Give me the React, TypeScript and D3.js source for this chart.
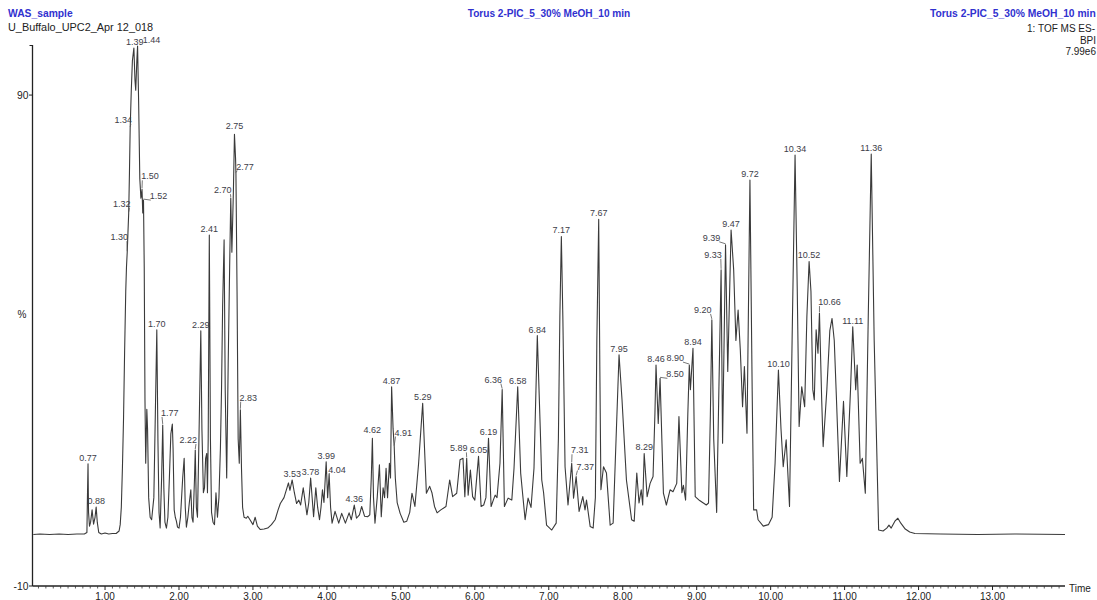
import React from "react";
import * as d3 from "d3";

type Pt = [number, number];

// Chromatogram trace, time (min) vs relative intensity (%)
const traceLeadIn: Pt[] = [
  [0.03, 0.5], [0.12, 0.6], [0.25, 0.5], [0.38, 0.6], [0.5, 0.5], [0.62, 0.6], [0.72, 0.6],
  [0.755, 0.9], [0.762, 8], [0.77, 14.9], [0.777, 5], [0.79, 2.2], [0.805, 3], [0.825, 5.5],
  [0.845, 2.6], [0.865, 4], [0.88, 6.1], [0.895, 3], [0.915, 0.9], [0.95, 0.6], [1.0, 0.8],
  [1.05, 0.6], [1.1, 0.7], [1.15, 0.7], [1.19, 1.2],
];

const traceMain: Pt[] = [
  [1.205, 2.5], [1.22, 6], [1.235, 14], [1.25, 24], [1.265, 38], [1.28, 50], [1.29, 55],
  [1.3, 58], [1.31, 62], [1.32, 66], [1.33, 74], [1.34, 83.3], [1.355, 91], [1.37, 97],
  [1.39, 99.6], [1.405, 93], [1.415, 91], [1.43, 97], [1.44, 100], [1.455, 88], [1.47, 73],
  [1.485, 69], [1.5, 70.8], [1.51, 66], [1.52, 68.6], [1.53, 55], [1.54, 28], [1.55, 15],
  [1.565, 26], [1.575, 22], [1.59, 8], [1.61, 4], [1.63, 3.5],
];

const traceEarly: Pt[] = [
  [1.66, 8], [1.68, 25], [1.7, 42.2], [1.715, 20], [1.73, 5], [1.745, 1.8], [1.765, 12],
  [1.78, 22.8], [1.795, 10], [1.81, 3], [1.83, 1.8], [1.85, 4], [1.87, 12], [1.89, 21],
  [1.91, 23], [1.92, 18], [1.935, 5.5], [1.95, 4], [1.965, 3.2], [1.98, 2], [2.0, 1.8],
  [2.02, 4], [2.05, 12], [2.07, 16], [2.085, 6], [2.1, 2], [2.12, 4], [2.14, 7], [2.16, 9.6],
  [2.175, 4], [2.19, 3], [2.21, 12], [2.22, 17.7], [2.235, 6], [2.25, 4], [2.27, 20],
  [2.295, 42], [2.31, 22], [2.33, 9], [2.345, 10], [2.36, 16], [2.375, 17], [2.385, 9],
  [2.395, 20], [2.41, 61.5], [2.425, 20], [2.44, 5], [2.46, 3], [2.48, 2.5], [2.5, 9],
  [2.52, 4], [2.54, 8], [2.56, 18], [2.575, 30], [2.59, 47], [2.61, 60.5], [2.625, 30],
  [2.645, 12], [2.665, 35], [2.685, 55], [2.7, 69], [2.715, 58], [2.735, 70], [2.75, 82],
  [2.765, 77], [2.77, 74], [2.785, 50], [2.8, 20], [2.815, 15], [2.83, 25.9], [2.845, 14],
  [2.86, 6], [2.88, 4], [2.91, 3.8], [2.93, 4.2], [2.96, 3.5], [3.0, 2.5], [3.03, 4],
  [3.06, 2.2], [3.1, 1.5], [3.15, 1.6], [3.2, 1.8],
];

const traceMid: Pt[] = [
  [3.25, 2.5], [3.3, 3.5], [3.34, 5.5], [3.37, 6.8], [3.42, 8], [3.46, 10], [3.48, 11],
  [3.5, 9.5], [3.53, 11.6], [3.56, 9], [3.59, 6.8], [3.62, 7.5], [3.645, 6.5], [3.68, 10],
  [3.73, 4.5], [3.755, 7], [3.78, 12], [3.82, 4.1], [3.85, 10], [3.875, 6], [3.9, 3.5],
  [3.92, 6], [3.94, 9.6], [3.96, 7], [3.99, 15.3], [4.01, 8], [4.03, 12.8], [4.05, 6],
  [4.07, 2.8], [4.11, 5.2], [4.16, 2.8], [4.2, 4.8], [4.25, 2.8], [4.3, 4.9], [4.33, 3.5],
  [4.37, 6.5], [4.4, 3.8], [4.44, 4.5], [4.47, 6.2], [4.51, 4.2], [4.55, 4.1], [4.58, 4.5],
  [4.6, 12], [4.615, 20.1], [4.63, 8], [4.65, 2.8],
];

const traceMid2: Pt[] = [
  [4.68, 8], [4.71, 14.7], [4.735, 4.1], [4.76, 10], [4.78, 8], [4.8, 14], [4.82, 8],
  [4.845, 15], [4.86, 12], [4.875, 30.6], [4.895, 22], [4.91, 18.4], [4.925, 12], [4.95, 7],
  [4.99, 4.8], [5.04, 3], [5.08, 3.2], [5.12, 5], [5.15, 8.9], [5.19, 6.2], [5.24, 15],
  [5.295, 27.2], [5.32, 18], [5.345, 8.9], [5.39, 10.3], [5.42, 9], [5.455, 6.2], [5.49, 4.9],
  [5.54, 5.5], [5.61, 6.2], [5.66, 11.6], [5.7, 8.2], [5.755, 8.9], [5.8, 15.7], [5.84, 16],
  [5.865, 8.2], [5.89, 16], [5.91, 8.5], [5.94, 13.6], [5.97, 8.2], [6.0, 7.5], [6.05, 16.4],
  [6.085, 6.2], [6.12, 6.5], [6.15, 8], [6.185, 20.1], [6.22, 6.2], [6.25, 7.5], [6.275, 8.5],
  [6.3, 8], [6.34, 15], [6.37, 30], [6.4, 6.2], [6.45, 7.9], [6.5, 7.5], [6.53, 14],
  [6.58, 30.6], [6.62, 13], [6.645, 9], [6.68, 3.5], [6.72, 7.9], [6.76, 6], [6.8, 14],
  [6.845, 41], [6.885, 22], [6.905, 11.6], [6.93, 9], [6.97, 2.4], [7.04, 1.4], [7.1, 2.8],
];

const traceLate: Pt[] = [
  [7.13, 20], [7.15, 45], [7.17, 61.2], [7.19, 45], [7.22, 14.3], [7.26, 6.5], [7.31, 15],
  [7.335, 7.9], [7.37, 12.3], [7.41, 5.2], [7.46, 8.2], [7.49, 5.5], [7.51, 7.5], [7.56, 2.1],
  [7.6, 1.8], [7.63, 8], [7.65, 40], [7.675, 64.7], [7.69, 35], [7.705, 9.6], [7.74, 14.3],
  [7.78, 13], [7.83, 2.4], [7.87, 2.8], [7.91, 20], [7.95, 37.1], [7.99, 28], [8.05, 11.6],
  [8.12, 3.5], [8.155, 3.2], [8.19, 13], [8.22, 6.9], [8.25, 9.6], [8.27, 6.5], [8.29, 17],
  [8.33, 8.2], [8.37, 10.9], [8.41, 12.3], [8.435, 25], [8.45, 35], [8.48, 23.1],
  [8.505, 32.3], [8.55, 8.9], [8.59, 6.5], [8.64, 9.6], [8.68, 9.2], [8.73, 10.9],
  [8.76, 24.5], [8.8, 9], [8.82, 10.5], [8.85, 7.5], [8.88, 25], [8.9, 35], [8.915, 30],
  [8.95, 38.4], [8.98, 8.2],
];

const traceEnd: Pt[] = [
  [9.04, 7.4], [9.09, 6.9], [9.13, 6.5], [9.16, 6.9], [9.185, 25], [9.205, 44.2], [9.23, 20],
  [9.27, 5], [9.3, 30], [9.33, 54.4], [9.35, 19.1], [9.39, 59.5], [9.42, 33.7], [9.465, 62.5],
  [9.5, 54.4], [9.53, 40], [9.56, 46.2], [9.59, 38], [9.62, 26.5], [9.645, 34.7], [9.68, 21.1],
  [9.72, 72.7], [9.75, 30], [9.77, 5.5], [9.81, 5.5], [9.83, 3.5], [9.9, 2.2], [9.97, 2.5],
  [10.02, 4], [10.06, 15], [10.105, 34], [10.14, 22], [10.17, 14.3], [10.21, 19.8],
  [10.255, 6.2], [10.29, 40], [10.33, 77.8], [10.36, 50], [10.385, 22.5], [10.42, 30.6],
  [10.46, 26.5], [10.49, 45], [10.52, 56.1], [10.545, 50], [10.57, 30], [10.59, 27.9],
  [10.615, 42.2], [10.64, 37.4], [10.66, 45.6], [10.69, 28], [10.71, 18.4], [10.76, 30],
  [10.8, 42], [10.83, 44.5], [10.86, 40], [10.89, 28], [10.93, 11.3], [10.985, 27.6],
  [11.03, 12.3], [11.08, 30], [11.11, 42.8], [11.15, 30], [11.17, 35], [11.21, 15],
  [11.24, 16], [11.28, 8.9], [11.32, 45], [11.36, 78], [11.4, 40], [11.46, 1.4], [11.52, 1.2],
  [11.57, 1.8], [11.6, 2.4], [11.63, 1.8], [11.68, 3.2], [11.72, 3.8], [11.76, 2.8],
  [11.82, 1.6], [11.88, 1.0], [11.95, 0.7], [12.3, 0.6], [12.8, 0.5], [13.3, 0.6], [13.98, 0.5],
];

// Labelled peaks: text, apex time, apex intensity
const peakLabels: string[] = [
  "0.77", "0.88", "1.30", "1.32", "1.34", "1.39", "1.44", "1.50", "1.52", "1.70", "1.77",
  "2.22", "2.29", "2.41", "2.70", "2.75", "2.77", "2.83", "3.53", "3.78", "3.99", "4.04",
  "4.36", "4.62", "4.87", "4.91", "5.29", "5.89", "6.05", "6.19", "6.36", "6.58", "6.84",
  "7.17", "7.31", "7.37", "7.67", "7.95", "8.29", "8.46", "8.50", "8.90", "8.94", "9.20",
  "9.33", "9.39", "9.47", "9.72", "10.10", "10.34", "10.52", "10.66", "11.11", "11.36",
];
const peakTimes: number[] = [
  0.77, 0.88, 1.3, 1.32, 1.34, 1.39, 1.44, 1.5, 1.52, 1.7, 1.78,
  2.22, 2.295, 2.41, 2.7, 2.75, 2.77, 2.83, 3.53, 3.78, 3.99, 4.03,
  4.37, 4.615, 4.875, 4.91, 5.295, 5.89, 6.05, 6.185, 6.37, 6.58, 6.845,
  7.17, 7.31, 7.37, 7.675, 7.95, 8.29, 8.45, 8.505, 8.9, 8.95, 9.205,
  9.33, 9.39, 9.465, 9.72, 10.105, 10.33, 10.52, 10.66, 11.11, 11.36,
];
const peakValues: number[] = [
  14.9, 6.1, 58, 66, 83.3, 99.6, 100, 70.8, 68.6, 42.2, 22.8,
  17.7, 42, 61.5, 69, 82, 74, 25.9, 11.6, 12, 15.3, 12.8,
  6.5, 20.1, 30.6, 18.4, 27.2, 16, 16.4, 20.1, 30, 30.6, 41,
  61.2, 15, 12.3, 64.7, 37.1, 17, 35, 32.3, 35, 38.4, 44.2,
  54.4, 59.5, 62.5, 72.7, 34, 77.8, 56.1, 45.6, 42.8, 78,
];

const xTickValues: number[] = [1, 2, 3, 4, 5, 6, 7, 8, 9, 10, 11, 12, 13];
const yTickValues: number[] = [-10, 90];

const FONT = "'Liberation Sans', Arial, Helvetica, sans-serif";
const BLUE = "#3131cf";

export default function App() {
  const W = 1097;
  const H = 600;
  const x = d3.scaleLinear().domain([0.026, 13.98]).range([33, 1065]);
  const y = d3.scaleLinear().domain([-10, 100.2]).range([586, 45]);

  const trace: Pt[] = [
    ...traceLeadIn, ...traceMain, ...traceEarly, ...traceMid,
    ...traceMid2, ...traceLate, ...traceEnd,
  ];
  const line = d3.line<Pt>().x((d) => x(d[0])).y((d) => y(d[1]));

  const minorTicks = d3
    .range(1, 140)
    .map((i) => i / 10)
    .filter((t) => Math.abs(t - Math.round(t)) > 0.01 && x(t) < 1065);

  // label placement: offset of label centre / baseline from the apex, and leader flag
  const layout: Record<string, { dx: number; dy: number; leader?: boolean }> = {
    "1.30": { dx: -8, dy: -12, leader: true },
    "1.32": { dx: -7, dy: -6, leader: true },
    "1.34": { dx: -7, dy: -5, leader: true },
    "1.39": { dx: 1, dy: -3 },
    "1.44": { dx: 14, dy: -3 },
    "1.50": { dx: 8, dy: -10, leader: true },
    "1.52": { dx: 15, dy: -1, leader: true },
    "1.77": { dx: 7, dy: -9, leader: true },
    "2.22": { dx: -7, dy: -7, leader: true },
    "2.70": { dx: -8, dy: -5, leader: true },
    "2.75": { dx: 0, dy: -5 },
    "2.77": { dx: 9, dy: -4, leader: true },
    "2.83": { dx: 8, dy: -9, leader: true },
    "4.04": { dx: 8, dy: -1, leader: true },
    "4.62": { dx: 0, dy: -5 },
    "4.91": { dx: 9, dy: -11, leader: true },
    "5.89": { dx: -8, dy: -7, leader: true },
    "6.36": { dx: -9, dy: -7, leader: true },
    "7.31": { dx: 8, dy: -10, leader: true },
    "7.37": { dx: 9, dy: -7, leader: true },
    "8.50": { dx: 15, dy: -1, leader: true },
    "8.90": { dx: -14, dy: -4, leader: true },
    "9.20": { dx: -9, dy: -7, leader: true },
    "9.33": { dx: -8, dy: -12, leader: true },
    "9.39": { dx: -14, dy: -4, leader: true },
    "10.66": { dx: 10, dy: -8, leader: true },
  };

  const labels = peakLabels.map((text, i) => {
    const ax = x(peakTimes[i]);
    const ay = y(peakValues[i]);
    const l = layout[text] || { dx: 0, dy: -3 };
    const lx = ax + l.dx;
    const by = ay + l.dy;
    const hw = text.length * 2.3;
    let leader: null | [number, number, number, number] = null;
    if (l.leader) {
      const sx = l.dx < 0 ? lx + hw - 1.5 : lx - hw + 1.5;
      leader = [sx, by + 1, ax, ay - 1];
    }
    return { text, lx, by, leader };
  });

  return (
    <div style={{ position: "absolute", left: 0, top: 0, background: "#fff" }}>
      <svg width={W} height={H} style={{ display: "block", fontFamily: FONT }}>
        <rect x={0} y={0} width={W} height={H} fill="#fff" />
        {/* header */}
        <text x={8} y={17.3} fontSize={10.3} fontWeight="bold" fill={BLUE}>WAS_sample</text>
        <text x={8} y={31} fontSize={10.9} fill="#222">U_Buffalo_UPC2_Apr 12_018</text>
        <text x={549} y={17.3} fontSize={10.1} fontWeight="bold" fill={BLUE} textAnchor="middle">
          Torus 2-PIC_5_30% MeOH_10 min
        </text>
        <text x={930} y={17.3} fontSize={10.3} fontWeight="bold" fill={BLUE}>
          Torus 2-PIC_5_30% MeOH_10 min
        </text>
        <text x={1095} y={32} fontSize={10} fill="#222" textAnchor="end">1: TOF MS ES-</text>
        <text x={1096} y={43.6} fontSize={10} fill="#222" textAnchor="end">BPI</text>
        <text x={1096} y={55.3} fontSize={10} fill="#222" textAnchor="end">7.99e6</text>

        {/* y axis */}
        <line x1={32.5} y1={y(100.2)} x2={32.5} y2={586} stroke="#222" strokeWidth={1.3} />
        <line x1={29.5} y1={y(100.2) + 0.5} x2={32.5} y2={y(100.2) + 0.5} stroke="#222" strokeWidth={1} />
        {yTickValues.map((v) => (
          <g key={v}>
            <line x1={29} x2={32.5} y1={y(v)} y2={y(v)} stroke="#222" strokeWidth={1} />
            <text x={28.5} y={y(v) + (v < 0 ? 4 : 3.8)} fontSize={10.3} fill="#222" textAnchor="end">
              {String(v)}
            </text>
          </g>
        ))}
        <text x={22} y={318} fontSize={10} fill="#222" textAnchor="middle">%</text>

        {/* x axis */}
        <line x1={32.5} x2={1065} y1={586} y2={586} stroke="#222" strokeWidth={1.3} />
        {minorTicks.map((t) => (
          <line key={t} x1={x(t)} x2={x(t)} y1={586} y2={588.5} stroke="#333" strokeWidth={0.8} />
        ))}
        {xTickValues.map((t) => (
          <g key={t}>
            <line x1={x(t)} x2={x(t)} y1={586} y2={590} stroke="#222" strokeWidth={1} />
            <text x={x(t)} y={599.5} fontSize={10} fill="#222" textAnchor="middle">
              {t.toFixed(2)}
            </text>
          </g>
        ))}
        <text x={1069} y={591.5} fontSize={10} fill="#222">Time</text>

        {/* trace */}
        <path d={line(trace) || ""} fill="none" stroke="#3a3a3a" strokeWidth={1.1} strokeLinejoin="round" />

        {/* peak labels */}
        {labels.map((l) => (
          <g key={l.text}>
            {l.leader && (
              <line x1={l.leader[0]} y1={l.leader[1]} x2={l.leader[2]} y2={l.leader[3]} stroke="#555" strokeWidth={0.8} />
            )}
            <text x={l.lx} y={l.by} fontSize={9} fill="#3d3d48" textAnchor="middle">{l.text}</text>
          </g>
        ))}
      </svg>
    </div>
  );
}
